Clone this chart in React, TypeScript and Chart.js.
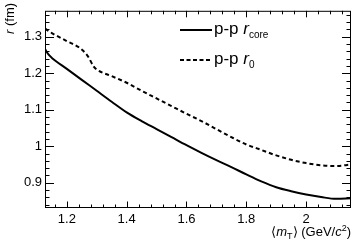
import React, { useEffect, useRef } from "react";
import { Chart, registerables } from "chart.js";
Chart.register(...registerables);

// <m_T> (GeV/c^2) positions and radii (fm)
const coreMt = [1.127, 1.14, 1.15, 1.2, 1.25, 1.3, 1.35, 1.4, 1.45, 1.5, 1.55, 1.6, 1.65, 1.7, 1.75, 1.8, 1.85, 1.9, 1.95, 2.0, 2.05, 2.1, 2.15];
const coreR = [1.266, 1.25, 1.242, 1.212, 1.182, 1.152, 1.122, 1.093, 1.069, 1.047, 1.025, 1.003, 0.982, 0.962, 0.943, 0.923, 0.904, 0.888, 0.877, 0.868, 0.861, 0.856, 0.858];
const r0Mt = [1.127, 1.15, 1.2, 1.24, 1.27, 1.29, 1.3, 1.35, 1.4, 1.45, 1.5, 1.55, 1.6, 1.65, 1.7, 1.75, 1.8, 1.85, 1.9, 1.95, 2.0, 2.05, 2.1, 2.15];
const r0R = [1.322, 1.31, 1.288, 1.271, 1.247, 1.218, 1.21, 1.192, 1.174, 1.152, 1.131, 1.11, 1.089, 1.069, 1.047, 1.025, 1.005, 0.99, 0.975, 0.963, 0.954, 0.948, 0.946, 0.95];

const xMajor = [1.2, 1.4, 1.6, 1.8, 2.0];
const xLabels = ["1.2", "1.4", "1.6", "1.8", "2"];
const yMajor = [0.9, 1.0, 1.1, 1.2, 1.3];
const yLabels = ["0.9", "1", "1.1", "1.2", "1.3"];
const xMinorStep = 0.04;
const yMinorStep = 0.02;
const xMin = 1.127, xMax = 2.15, yMin = 0.831, yMax = 1.371;

const FONT = '"Liberation Sans", Arial, Helvetica, sans-serif';

type Seg = { t: string; size: number; italic?: boolean; dy?: number };

function drawRich(ctx: CanvasRenderingContext2D, segs: Seg[], x: number, y: number, align: "left" | "right") {
  const widths = segs.map((s) => {
    ctx.font = `${s.italic ? "italic " : ""}${s.size}px ${FONT}`;
    return ctx.measureText(s.t).width;
  });
  const total = widths.reduce((a, b) => a + b, 0);
  let cx = align === "right" ? x - total : x;
  ctx.textAlign = "left";
  ctx.textBaseline = "alphabetic";
  segs.forEach((s, i) => {
    ctx.font = `${s.italic ? "italic " : ""}${s.size}px ${FONT}`;
    ctx.fillText(s.t, cx, y + (s.dy || 0));
    cx += widths[i];
  });
}

const decorPlugin = {
  id: "decor",
  afterDraw(chart: any) {
    const ctx: CanvasRenderingContext2D = chart.ctx;
    const { left, right, top, bottom } = chart.chartArea;
    const xs = chart.scales.x;
    const ys = chart.scales.y;
    ctx.save();
    ctx.strokeStyle = "#000";
    ctx.fillStyle = "#000";
    ctx.lineWidth = 1;
    // frame
    ctx.strokeRect(left + 0.5, top + 0.5, right - left - 1, bottom - top - 1);
    // x ticks
    const xStart = Math.ceil((xMin - 1.2) / xMinorStep) * xMinorStep + 1.2;
    ctx.beginPath();
    for (let v = xStart; v <= xMax + 1e-9; v += xMinorStep) {
      const major = xMajor.some((m) => Math.abs(m - v) < 1e-6);
      const len = major ? 6.5 : 3.5;
      const px = Math.round(xs.getPixelForValue(v)) + 0.5;
      ctx.moveTo(px, bottom);
      ctx.lineTo(px, bottom - len);
      ctx.moveTo(px, top);
      ctx.lineTo(px, top + len);
    }
    // y ticks
    const yStart = Math.ceil((yMin - 0.9) / yMinorStep) * yMinorStep + 0.9;
    for (let v = yStart; v <= yMax + 1e-9; v += yMinorStep) {
      const major = yMajor.some((m) => Math.abs(m - v) < 1e-6);
      const len = major ? 9 : 4.5;
      const py = Math.round(ys.getPixelForValue(v)) + 0.5;
      ctx.moveTo(left, py);
      ctx.lineTo(left + len, py);
      ctx.moveTo(right, py);
      ctx.lineTo(right - len, py);
    }
    ctx.stroke();

    // y title
    ctx.save();
    ctx.translate(14, 34);
    ctx.rotate(-Math.PI / 2);
    drawRich(ctx, [
      { t: "r", size: 13, italic: true },
      { t: " (fm)", size: 13 },
    ], 0, 0, "left");
    ctx.restore();

    // x title
    drawRich(ctx, [
      { t: "\u27E8", size: 13 },
      { t: "m", size: 13, italic: true },
      { t: "T", size: 9, dy: 3 },
      { t: "\u27E9 (GeV/", size: 13 },
      { t: "c", size: 13, italic: true },
      { t: "2", size: 9, dy: -5 },
      { t: ")", size: 13 },
    ], right, 236, "right");

    // legend
    ctx.lineWidth = 2;
    ctx.setLineDash([]);
    ctx.beginPath();
    ctx.moveTo(180, 30);
    ctx.lineTo(212, 30);
    ctx.stroke();
    ctx.setLineDash([4, 2.5]);
    ctx.beginPath();
    ctx.moveTo(180, 60);
    ctx.lineTo(212, 60);
    ctx.stroke();
    ctx.setLineDash([]);
    drawRich(ctx, [
      { t: "p-p ", size: 17 },
      { t: "r", size: 17, italic: true },
      { t: "core", size: 10, dy: 4 },
    ], 214, 34, "left");
    drawRich(ctx, [
      { t: "p-p ", size: 17 },
      { t: "r", size: 17, italic: true },
      { t: "0", size: 10, dy: 4 },
    ], 214, 64, "left");
    ctx.restore();
  },
};

export default function App() {
  const ref = useRef<HTMLCanvasElement | null>(null);
  useEffect(() => {
    document.body.style.margin = "0";
    const canvas = ref.current;
    if (!canvas) return;
    const chart = new Chart(canvas, {
      type: "line",
      data: {
        datasets: [
          {
            label: "p-p r_core",
            data: coreMt.map((x, i) => ({ x, y: coreR[i] })),
            borderColor: "#000",
            borderWidth: 2,
            pointRadius: 0,
            cubicInterpolationMode: "monotone",
            fill: false,
          },
          {
            label: "p-p r_0",
            data: r0Mt.map((x, i) => ({ x, y: r0R[i] })),
            borderColor: "#000",
            borderWidth: 2,
            borderDash: [4, 3],
            pointRadius: 0,
            cubicInterpolationMode: "monotone",
            fill: false,
          },
        ],
      },
      options: {
        animation: false,
        responsive: false,
        devicePixelRatio: 1,
        layout: { padding: { top: 3, right: 4, left: 0, bottom: 0 } },
        plugins: { legend: { display: false }, tooltip: { enabled: false } },
        scales: {
          x: {
            type: "linear",
            min: xMin,
            max: xMax,
            grid: { display: false, drawTicks: false },
            border: { display: false },
            afterBuildTicks: (s: any) => {
              s.ticks = xMajor.map((v) => ({ value: v }));
            },
            afterFit: (s: any) => {
              s.height = 34;
            },
            ticks: {
              color: "#000",
              font: { size: 13, family: FONT },
              padding: 4,
              maxRotation: 0,
              autoSkip: false,
              callback: (v: any) => {
                const i = xMajor.findIndex((m) => Math.abs(m - Number(v)) < 1e-6);
                return i >= 0 ? xLabels[i] : "";
              },
            },
          },
          y: {
            type: "linear",
            min: yMin,
            max: yMax,
            grid: { display: false, drawTicks: false },
            border: { display: false },
            afterBuildTicks: (s: any) => {
              s.ticks = yMajor.map((v) => ({ value: v }));
            },
            afterFit: (s: any) => {
              s.width = 45;
            },
            ticks: {
              color: "#000",
              font: { size: 13, family: FONT },
              padding: 3,
              autoSkip: false,
              callback: (v: any) => {
                const i = yMajor.findIndex((m) => Math.abs(m - Number(v)) < 1e-6);
                return i >= 0 ? yLabels[i] : "";
              },
            },
          },
        },
      },
      plugins: [decorPlugin],
    } as any);
    return () => chart.destroy();
  }, []);
  return (
    <div style={{ width: 355, height: 242, background: "#fff" }}>
      <canvas ref={ref} width={355} height={242} style={{ width: 355, height: 242, display: "block" }} />
    </div>
  );
}
